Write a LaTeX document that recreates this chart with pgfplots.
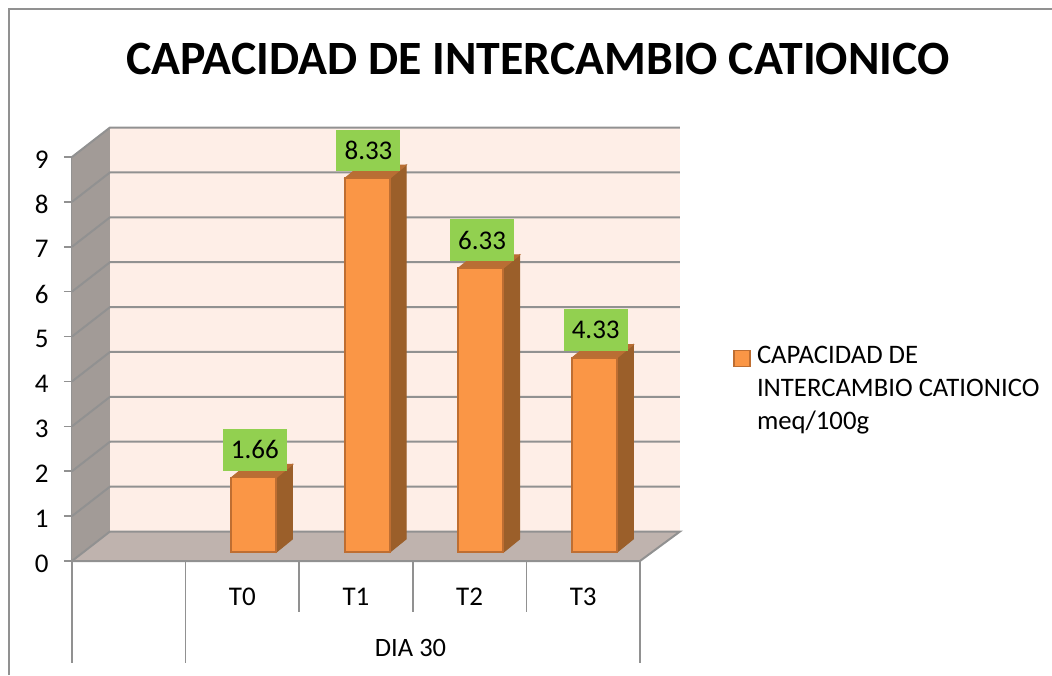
\documentclass[border=0pt]{standalone}
\usepackage{pgfplots}
\usepackage{fontspec}
\pgfplotsset{compat=1.18}
\setmainfont{Carlito}
\definecolor{gridc}{RGB}{145,145,145}
\definecolor{wallc}{RGB}{254,238,231}
\definecolor{leftc}{RGB}{162,155,151}
\definecolor{floorc}{RGB}{191,179,174}
\definecolor{frontc}{RGB}{250,150,70}
\definecolor{sidec}{RGB}{155,95,42}
\definecolor{topc}{RGB}{185,110,52}
\definecolor{edgec}{RGB}{190,110,50}
\definecolor{labelc}{RGB}{146,208,80}
\begin{document}
\begin{tikzpicture}[x=1pt,y=1pt]
\path[use as bounding box] (-72,-114) rectangle (980,561);
\fill[white] (-72,-114) rectangle (980,561);
\draw[gridc,line width=1.6pt] (-63,-114) -- (-63,552) -- (980,552);
\begin{axis}[
  scale only axis, width=568pt, height=404pt,
  xmin=-0.5, xmax=4.5, ymin=0, ymax=9,
  clip=false,
  axis lines=left,
  axis line style={-,gridc,line width=2pt},
  ytick={0,1,2,3,4,5,6,7,8,9},
  xtick={1,2,3,4},
  xticklabels={T0,T1,T2,T3},
  tick style={gridc,line width=1.6pt},
  ytick style={gridc,line width=1.6pt},
  xtick style={draw=none},
  major tick length=8pt,
  tick align=outside,
  /pgf/number format/assume math mode=true,
  tick label style={font=\fontsize{27}{30}\selectfont},
  yticklabel style={xshift=-12pt,yshift=-2.5pt},
  xticklabel style={yshift=-15pt,text height=18pt,text depth=0pt},
  title={\fontsize{47.8}{50}\selectfont\bfseries CAPACIDAD DE INTERCAMBIO CATIONICO},
  title style={at={(0.8204,1.2277)},anchor=center},
  legend style={at={(661pt,319pt)},anchor=north west,draw=none,fill=none,
    font=\fontsize{26.7}{33}\selectfont,inner sep=0pt},
  legend cell align=left,
]
% walls and floor
\addplot[fill=wallc,draw=none,forget plot] coordinates {(-0.1655,0.657)(4.852,0.657)(4.852,9.657)(-0.1655,9.657)} --cycle;
\addplot[fill=leftc,draw=none,forget plot] coordinates {(-0.5,0)(-0.1655,0.657)(-0.1655,9.657)(-0.5,9)} --cycle;
\addplot[fill=floorc,draw=none,forget plot] coordinates {(-0.5,0)(4.5,0)(4.852,0.657)(-0.1655,0.657)} --cycle;
% grid lines
\addplot[gridc,line width=2pt,forget plot] coordinates {(-0.5,0)(-0.1655,0.657)(4.852,0.657)(4.5,0)(-0.5,0)};
\addplot[gridc,line width=2pt,forget plot] coordinates {(-0.5,1)(-0.1655,1.657)(4.852,1.657)};
\addplot[gridc,line width=2pt,forget plot] coordinates {(-0.5,2)(-0.1655,2.657)(4.852,2.657)};
\addplot[gridc,line width=2pt,forget plot] coordinates {(-0.5,3)(-0.1655,3.657)(4.852,3.657)};
\addplot[gridc,line width=2pt,forget plot] coordinates {(-0.5,4)(-0.1655,4.657)(4.852,4.657)};
\addplot[gridc,line width=2pt,forget plot] coordinates {(-0.5,5)(-0.1655,5.657)(4.852,5.657)};
\addplot[gridc,line width=2pt,forget plot] coordinates {(-0.5,6)(-0.1655,6.657)(4.852,6.657)};
\addplot[gridc,line width=2pt,forget plot] coordinates {(-0.5,7)(-0.1655,7.657)(4.852,7.657)};
\addplot[gridc,line width=2pt,forget plot] coordinates {(-0.5,8)(-0.1655,8.657)(4.852,8.657)};
\addplot[gridc,line width=2pt,forget plot] coordinates {(-0.5,9)(-0.1655,9.657)(4.852,9.657)};
% category separators
\addplot[gridc,line width=1.6pt,forget plot] coordinates {(-0.5,0)(-0.5,-2.272)};
\addplot[gridc,line width=1.6pt,forget plot] coordinates {(0.5,0)(0.5,-2.272)};
\addplot[gridc,line width=1.6pt,forget plot] coordinates {(1.5,0)(1.5,-1.136)};
\addplot[gridc,line width=1.6pt,forget plot] coordinates {(2.5,0)(2.5,-1.136)};
\addplot[gridc,line width=1.6pt,forget plot] coordinates {(3.5,0)(3.5,-1.136)};
\addplot[gridc,line width=1.6pt,forget plot] coordinates {(4.5,0)(4.5,-2.272)};
% bar sides
\addplot[fill=sidec,draw=sidec,line width=1pt,yshift=9pt,forget plot] coordinates {(1.30,0)(1.441,0.29)(1.441,1.95)(1.30,1.66)} --cycle;
\addplot[fill=sidec,draw=sidec,line width=1pt,yshift=9pt,forget plot] coordinates {(2.30,0)(2.441,0.29)(2.441,8.62)(2.30,8.33)} --cycle;
\addplot[fill=sidec,draw=sidec,line width=1pt,yshift=9pt,forget plot] coordinates {(3.30,0)(3.441,0.29)(3.441,6.62)(3.30,6.33)} --cycle;
\addplot[fill=sidec,draw=sidec,line width=1pt,yshift=9pt,forget plot] coordinates {(4.30,0)(4.441,0.29)(4.441,4.62)(4.30,4.33)} --cycle;
% bar tops
\addplot[fill=topc,draw=topc,line width=1pt,yshift=9pt,forget plot] coordinates {(0.904,1.66)(1.045,1.95)(1.441,1.95)(1.30,1.66)} --cycle;
\addplot[fill=topc,draw=topc,line width=1pt,yshift=9pt,forget plot] coordinates {(1.904,8.33)(2.045,8.62)(2.441,8.62)(2.30,8.33)} --cycle;
\addplot[fill=topc,draw=topc,line width=1pt,yshift=9pt,forget plot] coordinates {(2.904,6.33)(3.045,6.62)(3.441,6.62)(3.30,6.33)} --cycle;
\addplot[fill=topc,draw=topc,line width=1pt,yshift=9pt,forget plot] coordinates {(3.904,4.33)(4.045,4.62)(4.441,4.62)(4.30,4.33)} --cycle;
% bar fronts with labels
\addplot[ybar,bar width=45pt,bar shift=11.2pt,yshift=9pt,fill=frontc,draw=edgec,line width=1.8pt,
  nodes near coords={\raisebox{-2.5pt}{\pgfplotspointmeta}},
  point meta=explicit symbolic,
  every node near coord/.append style={fill=labelc,draw=none,inner sep=0pt,
    minimum width=64pt,minimum height=41.5pt,anchor=south,yshift=6pt,xshift=12.5pt,text=black,
    font=\fontsize{27}{30}\selectfont},
  legend image code/.code={\draw[fill=frontc,draw=edgec,line width=1.8pt] (0pt,-20pt) rectangle (16pt,-4pt);},
] coordinates {(1,1.66) [1.66] (2,8.33) [8.33] (3,6.33) [6.33] (4,4.33) [4.33]};
\addlegendentry{\parbox[t]{300pt}{\hspace*{4pt}CAPACIDAD DE\\\hspace*{4pt}INTERCAMBIO CATIONICO\\\hspace*{4pt}meq/100g}}
\node[font=\fontsize{26.5}{30}\selectfont] at (axis cs:2.48,-1.935) {DIA 30};
\end{axis}
\end{tikzpicture}
\end{document}
